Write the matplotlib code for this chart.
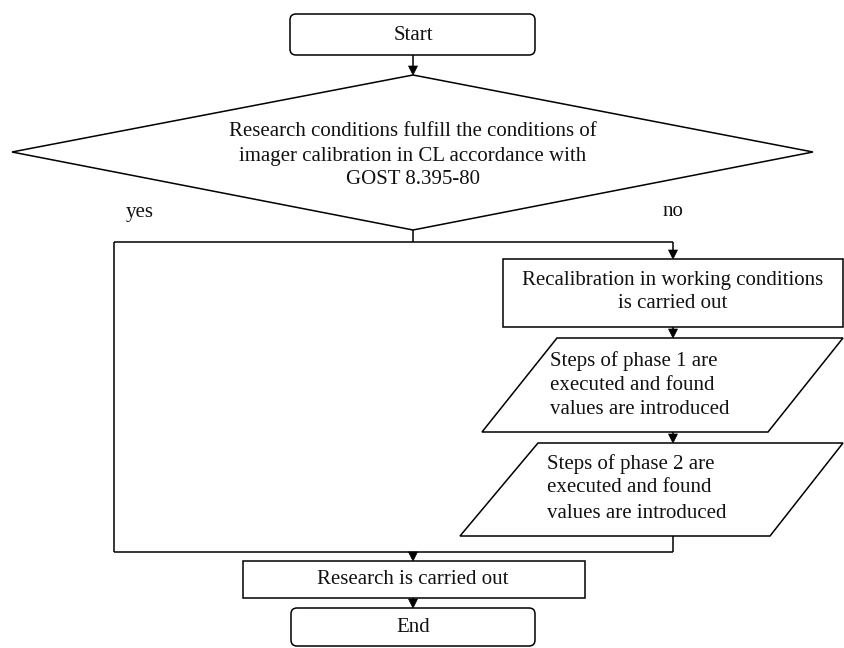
import matplotlib
matplotlib.use("Agg")
import matplotlib.pyplot as plt
from matplotlib.patches import FancyBboxPatch, Polygon, Rectangle

plt.rcParams['font.family'] = ['Liberation Serif', 'DejaVu Serif']

# ============================================================
# texts
# ============================================================
START_TEXT = "Start"
END_TEXT = "End"
DECISION_TEXT = ["Research conditions fulfill the conditions of",
                 "imager calibration in CL accordance with",
                 "GOST 8.395-80"]
YES_TEXT = "yes"
NO_TEXT = "no"
RECAL_TEXT = ["Recalibration in working conditions", "is carried out"]
PHASE1_TEXT = ["Steps of phase 1 are", "executed and found", "values are introduced"]
PHASE2_TEXT = ["Steps of phase 2 are", "executed and found", "values are introduced"]
RESEARCH_TEXT = "Research is carried out"

# ============================================================
# layout (pixel coords, y down)
# ============================================================
W, H = 844, 648
FS = 15
LW = 1.1
CX = 413          # main axis
CR = 673          # right branch axis

fig = plt.figure(figsize=(W / 100, H / 100), dpi=100)
ax = fig.add_axes([0, 0, 1, 1])
ax.set_xlim(0, W)
ax.set_ylim(H, 0)
ax.axis('off')


def rbox(x0, y0, x1, y1):
    ax.add_patch(FancyBboxPatch((x0 + 6, y0 + 6), x1 - x0 - 12, y1 - y0 - 12,
                                boxstyle="round,pad=6", fc='white', ec='black', lw=LW))


def box(x0, y0, x1, y1):
    ax.add_patch(Rectangle((x0, y0), x1 - x0, y1 - y0, fc='white', ec='black', lw=LW))


def para(y0, y1, top_x0, top_x1, bot_x0, bot_x1):
    ax.add_patch(Polygon([(top_x0, y0), (top_x1, y0), (bot_x1, y1), (bot_x0, y1)],
                         closed=True, fc='white', ec='black', lw=LW))


def line(xs, ys):
    ax.plot(xs, ys, color='black', lw=LW, solid_capstyle='butt')


def arrow(x, y0, y1):
    line([x, x], [y0, y1 - 7])
    ax.add_patch(Polygon([(x - 4.5, y1 - 9), (x + 4.5, y1 - 9), (x, y1)],
                         closed=True, fc='black', ec='black', lw=0.5))


def lines_text(x, ys, texts, ha='center'):
    for y, t in zip(ys, texts):
        ax.text(x, y, t, ha=ha, va='center', fontsize=FS, color='#111111')


# Start
rbox(290, 14, 535, 55)
lines_text(CX, [35], [START_TEXT])
arrow(CX, 55, 75)

# Decision
ax.add_patch(Polygon([(CX, 75), (813, 152), (CX, 230), (12, 152)],
                     closed=True, fc='white', ec='black', lw=LW))
lines_text(CX, [132, 156, 179], DECISION_TEXT)
lines_text(140, [212], [YES_TEXT])
lines_text(673, [212], [NO_TEXT])

# branches
line([CX, CX], [230, 242])
line([114, CR], [242, 242])
line([114, 114], [242, 552])
arrow(CR, 242, 259)

# Recalibration
box(503, 259, 843, 327)
lines_text(CR, [281, 304], RECAL_TEXT)
arrow(CR, 327, 338)

# Phase 1
para(338, 432, 557, 843, 482, 768)
lines_text(550, [361, 385, 409], PHASE1_TEXT, ha='left')
arrow(CR, 432, 443)

# Phase 2
para(443, 536, 538, 843, 460, 770)
lines_text(547, [464, 488, 513], PHASE2_TEXT, ha='left')
line([CR, CR], [536, 552])
line([114, CR], [552, 552])
arrow(CX, 552, 561)

# Research
box(243, 561, 585, 598)
lines_text(CX, [580], [RESEARCH_TEXT])
arrow(CX, 598, 608)

# End
rbox(291, 608, 535, 646)
lines_text(CX, [628], [END_TEXT])

fig.savefig("out.png", dpi=100, facecolor='white')
